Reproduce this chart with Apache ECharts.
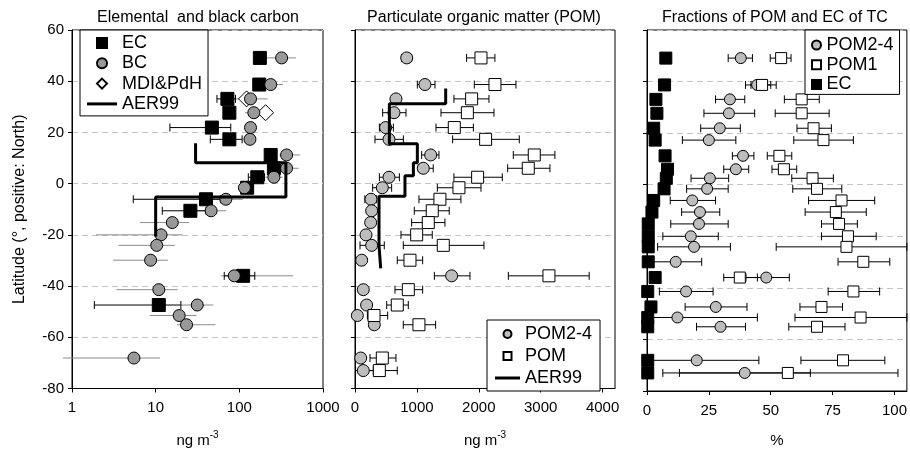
<!DOCTYPE html>
<html>
<head>
<meta charset="utf-8">
<script src="https://cdn.jsdelivr.net/npm/echarts@6/dist/echarts.min.js"></script>
<style>
  html, body { margin: 0; padding: 0; background: #fff; }
  #main { width: 910px; height: 453px; }
</style>
</head>
<body>
<div id="main"></div>
<script>
// sample latitudes (°N), shared by all three panels
const lat = [49.1, 38.7, 33.1, 27.7, 21.9, 17.3, 11.2, 6.0, 2.5, -1.6, -6.1, -10.6, -15.2, -20.0, -24.1, -29.9, -36.0, -41.4, -47.4, -51.5, -55.1, -68.1, -73.0];

// panel 1: elemental and black carbon, ng m-3
const ec    = [176, 173, 72, 76, 47, 76, 237, 259, 164, 124, 40, 26, null, null, null, null, 111, null, 10.9, null, null, null, null];
const ecLo  = [null, null, 54, null, 14.8, 45, null, null, 128, null, 5.4, 12, null, null, null, null, 66, null, 1.85, null, null, null, null];
const ecHi  = [null, null, 90, null, 79, 108, null, null, 200, null, 60, 40, null, null, null, null, 153, null, 20, null, null, null, null];
const bc    = [320, 237, 136, 149, 136, 134, 367, 367, 259, 115, 69, 46, 15.8, 11.6, 10.3, 8.7, 87, 10.9, 31.4, 19.1, 23.4, 5.5, null];
const bcLo  = [212, 192, 85, 117, null, null, 300, 300, 200, 98, 48, 31, 6.5, 1.94, 3.6, 3.1, 60, 3.4, 20, 8.5, 18, 0.78, null];
const bcHi  = [475, 332, 218, 193, null, null, 530, 510, 330, 146, 110, 70, 25, 21, 17, 14, 440, 18.3, 49, 30.8, 52, 11.3, null];
const mdi   = [null, null, 122, 206, null, null, null, null, null, null, null, null, null, null, null, null, null, null, null, null, null, null, null];
const aer1X   = [30, 30, 360, 360, 10, 10];
const aer1Lat = [15.8, 8.2, 8.2, -5.2, -5.2, -20.6];

// panel 2: particulate organic matter, ng m-3
const pom24   = [835, 1130, 662, 630, 495, 549, 1222, 1103, 549, 441, 258, 269, 253, 178, 269, 108, 1561, 134, 188, 38, 312, 92, 134];
const pom24Lo = [755, 1007, 600, 447, 394, 323, 1077, 1022, 394, 285, 160, null, null, null, 81, null, 1282, null, null, null, null, null, 10];
const pom24Hi = [915, 1292, 720, 824, 620, 781, 1356, 1264, 717, 592, 350, null, null, null, 473, null, 1857, null, null, null, null, null, 296];
const pom     = [2035, 2261, 1884, 1815, 1604, 2110, 2896, 2799, 1981, 1679, 1372, 1248, 1184, 996, 1426, 888, 3133, 861, 683, 307, 1033, 441, 393];
const pomLo   = [1803, 1927, 1598, 1389, 1308, 1577, 2557, 2466, 1598, 1330, 1033, 958, 915, 743, 780, 683, 2477, 646, 512, 200, 780, 242, 188];
const pomHi   = [2260, 2600, 2164, 2245, 1912, 2654, 3229, 3149, 2379, 2035, 1711, 1522, 1453, 1248, 2083, 1093, 3783, 1093, 861, 528, 1302, 662, 683];
const aer2X   = [1465, 1465, 555, 555, 1007, 1007, 943, 943, 807, 807, 388, 388, 415, 415];
const aer2Lat = [37.2, 31.2, 31.2, 15.6, 15.6, 8.2, 8.2, 3.1, 3.1, -4.9, -4.9, -24.2, -24.2, -33.1];

// panel 3: fractions of TC, %
const f24   = [37.9, 44.5, 33.5, 33.1, 29.4, 25, 38.8, 35.9, 25.4, 24.3, 18.3, 21.4, 21, 17.7, 19, 11.6, 48.2, 15.8, 27.8, 12.3, 29.7, 20.1, 39.5];
const f24Lo = [32.8, 39.8, 27.7, 23, 21.7, 14.3, 34.5, 31, 17.8, 16, 9.4, 14, 9.6, 6.4, 4.3, 1.3, 40, 5, 15.4, 1.3, 20, 1.3, 13.1];
const f24Hi = [42.6, 50, 39.5, 43.5, 37.7, 35.9, 43.2, 41.1, 33, 32.8, 27.7, 29.4, 32.8, 28.8, 33.7, 22.1, 57.5, 26.7, 40.4, 44.6, 39.8, 45.2, 66];
const f1    = [54.2, 46.5, 62.5, 62.5, 67.3, 71.3, 53.5, 55.3, 66.9, 68.7, 78.6, 76.3, 77.6, 81.2, 80.6, 87.4, 37.5, 83.4, 70.5, 86.3, 68.7, 79.2, 56.9];
const f1Lo  = [49.8, 42, 55.5, 51.8, 60.6, 59.3, 48.6, 50.5, 58.5, 58.9, 65.3, 63.9, 70.5, 70.5, 52.2, 77.2, 31, 73.2, 61.8, 59.8, 57.3, 62.2, 6.4];
const f1Hi  = [58.2, 52.2, 69.6, 73.6, 74.5, 83.4, 58.5, 60.5, 75.3, 78.7, 92, 88.6, 85, 92.6, 105, 98.1, 44.6, 94, 79, 105, 80, 96.1, 101.4];
const fEc   = [7.6, 7.1, 3.6, 4.0, 2.7, 3.3, 7.3, 8.3, 7.8, 6.9, 2.7, 2.0, 0.5, 0.5, 0.5, 0.5, 3.3, 0.3, 1.6, 0.3, 0.3, 0.3, 0.3];

const yTicks = [-80, -60, -40, -20, 0, 20, 40, 60];
const x2Ticks = [0, 1000, 2000, 3000, 4000];
const x3Ticks = [0, 25, 50, 75, 100];

const FONT = '"Liberation Sans", Arial, sans-serif';
const SQUARE = 'path://M0 0H10V10H0Z';
const DIAMOND = 'path://M5 0L10 5L5 10L0 5Z';

function pts(xs) {
  return xs.map((v, i) => v == null ? null : [v, lat[i]]).filter(Boolean);
}
function bars(lo, hi) {
  return lat.map((y, i) => lo[i] == null ? null : [lo[i], hi[i], y]).filter(Boolean);
}
function line(xs, ys) {
  return xs.map((v, i) => [v, ys[i]]);
}

function errSeries(idx, data, color, cap) {
  return {
    type: 'custom',
    xAxisIndex: idx, yAxisIndex: idx,
    clip: false,
    silent: true,
    encode: { x: [0, 1], y: 2 },
    renderItem: function (params, api) {
      const a = api.coord([api.value(0), api.value(2)]);
      const b = api.coord([api.value(1), api.value(2)]);
      const st = { stroke: color, lineWidth: 1 };
      const ch = [{ type: 'line', shape: { x1: a[0], y1: a[1], x2: b[0], y2: b[1] }, style: st }];
      if (cap) {
        ch.push({ type: 'line', shape: { x1: a[0], y1: a[1] - cap, x2: a[0], y2: a[1] + cap }, style: st });
        ch.push({ type: 'line', shape: { x1: b[0], y1: b[1] - cap, x2: b[0], y2: b[1] + cap }, style: st });
      }
      return { type: 'group', children: ch };
    },
    data: data
  };
}

function dots(idx, name, data, symbol, size, fill) {
  return {
    type: 'scatter', name: name,
    xAxisIndex: idx, yAxisIndex: idx,
    symbol: symbol, symbolSize: size,
    itemStyle: { color: fill, borderColor: '#000', borderWidth: 1, opacity: 1 },
    emphasis: { disabled: true },
    data: data
  };
}

function stepLine(idx, data) {
  return {
    type: 'line', name: 'AER99',
    xAxisIndex: idx, yAxisIndex: idx,
    symbol: 'none', silent: true,
    lineStyle: { color: '#000', width: 3 },
    itemStyle: { color: '#000' },
    data: data
  };
}

const grids = [
  { left: 72, top: 30, width: 251, height: 365 },
  { left: 355, top: 30, width: 260, height: 365 },
  { left: 647, top: 30, width: 262, height: 365 }
].map(g => Object.assign(g, { show: true, borderColor: '#000', borderWidth: 1, backgroundColor: 'transparent' }));

const axisCommon = {
  axisLine: { show: true, onZero: false, lineStyle: { color: '#000', width: 1 } },
  axisTick: { show: true, inside: false, length: 4, lineStyle: { color: '#000' } },
  splitLine: { show: false }
};

const supName = {
  nameLocation: 'middle',
  nameGap: 42,
  nameTextStyle: {
    color: '#000',
    rich: {
      a: { fontSize: 15, fontFamily: FONT, color: '#000', lineHeight: 20 },
      b: { fontSize: 10, fontFamily: FONT, color: '#000', lineHeight: 10, verticalAlign: 'top' }
    }
  }
};

const plain = v => String(v);

const option = {
  animation: false,
  backgroundColor: '#fff',
  textStyle: { fontFamily: FONT, color: '#000' },
  title: [
    { text: 'Elemental  and black carbon', left: 198, top: 10, textAlign: 'center' },
    { text: 'Particulate organic matter (POM)', left: 484, top: 10, textAlign: 'center' },
    { text: 'Fractions of POM and EC of TC', left: 775, top: 10, textAlign: 'center' }
  ].map(t => Object.assign(t, { padding: 0, textStyle: { fontSize: 16, fontWeight: 'normal', color: '#000', fontFamily: FONT } })),
  grid: grids,
  xAxis: [
    Object.assign({}, axisCommon, supName, {
      type: 'log', logBase: 10, min: 1, max: 1000, gridIndex: 0,
      axisLabel: { fontSize: 15, color: '#000', margin: 12, fontFamily: FONT, formatter: plain },
      minorTick: { show: false },
      name: '{a|ng m}{b|-3}'
    }),
    Object.assign({}, axisCommon, supName, {
      type: 'value', min: 0, max: 4200, interval: 1000, gridIndex: 1,
      axisTick: Object.assign({}, axisCommon.axisTick, { customValues: x2Ticks }),
      axisLabel: { fontSize: 15, color: '#000', margin: 12, fontFamily: FONT, customValues: x2Ticks, formatter: plain },
      name: '{a|ng m}{b|-3}'
    }),
    Object.assign({}, axisCommon, {
      type: 'value', min: 0, max: 105, gridIndex: 2,
      axisTick: Object.assign({}, axisCommon.axisTick, { customValues: x3Ticks }),
      axisLabel: { fontSize: 15, color: '#000', margin: 12, fontFamily: FONT, customValues: x3Ticks, formatter: plain },
      name: '%', nameLocation: 'middle', nameGap: 42,
      nameTextStyle: { fontSize: 15, color: '#000', fontFamily: FONT }
    })
  ],
  yAxis: [0, 1, 2].map(i => Object.assign({}, axisCommon, {
    type: 'value', gridIndex: i, min: -80, max: 60, interval: 20,
    axisTick: Object.assign({}, axisCommon.axisTick, { customValues: yTicks }),
    axisLabel: { show: i === 0, fontSize: 15, color: '#000', margin: 8, fontFamily: FONT, customValues: yTicks },
    splitLine: { show: true, lineStyle: { color: '#c4c4c4', type: [6, 4], width: 1 } },
    name: i === 0 ? 'Latitude (°, positive: North)' : '',
    nameLocation: 'middle', nameGap: 44,
    nameTextStyle: { fontSize: 16, color: '#000', fontFamily: FONT }
  })),
  legend: [
    {
      data: [
        { name: 'EC', icon: SQUARE },
        { name: 'BC', icon: 'circle' },
        { name: 'MDI&PdH', icon: DIAMOND },
        { name: 'AER99', icon: 'path://M0 0H30V3H0Z', itemStyle: { color: '#000', borderWidth: 0 } }
      ],
      orient: 'vertical', left: 80, top: 30,
      padding: [4, 6, 3, 7], itemGap: 2.3, itemWidth: 30, itemHeight: 10
    },
    {
      data: [
        { name: 'POM2-4', icon: 'circle' },
        { name: 'POM', icon: SQUARE },
        { name: 'AER99', icon: 'path://M0 0H25V3H0Z', itemStyle: { color: '#000', borderWidth: 0 } }
      ],
      orient: 'vertical', left: 487, top: 320,
      padding: [5, 8, 4, 8], itemGap: 4, itemWidth: 25, itemHeight: 8
    },
    {
      data: [
        { name: 'POM2-4', icon: 'circle' },
        { name: 'POM1', icon: SQUARE },
        { name: 'EC', icon: SQUARE }
      ],
      orient: 'vertical', left: 805, top: 30,
      padding: [6, 6, 1, 6], itemGap: 1.7, itemWidth: 10, itemHeight: 9
    }
  ].map(l => Object.assign(l, {
    borderColor: '#000', borderWidth: 1, borderRadius: 0, backgroundColor: '#fff',
    selectedMode: false, z: 10, symbolKeepAspect: true,
    textStyle: { fontSize: 18, color: '#000', fontFamily: FONT }
  })),
  series: [
    // panel 1
    errSeries(0, bars(bcLo, bcHi), '#8c8c8c', 0),
    errSeries(0, bars(ecLo, ecHi), '#000', 4),
    stepLine(0, line(aer1X, aer1Lat)),
    dots(0, 'EC', pts(ec), 'rect', 13, '#000'),
    dots(0, 'MDI&PdH', pts(mdi), 'diamond', 16, '#fff'),
    dots(0, 'BC', pts(bc), 'circle', 12, '#999'),
    // panel 2
    errSeries(1, bars(pomLo, pomHi), '#000', 4),
    errSeries(1, bars(pom24Lo, pom24Hi), '#000', 4),
    stepLine(1, line(aer2X, aer2Lat)),
    dots(1, 'POM2-4', pts(pom24), 'circle', 12, '#bdbdbd'),
    dots(1, 'POM', pts(pom), 'rect', 12, '#fff'),
    // panel 3
    errSeries(2, bars(f1Lo, f1Hi), '#000', 4),
    errSeries(2, bars(f24Lo, f24Hi), '#000', 4),
    dots(2, 'POM2-4', pts(f24), 'circle', 11, '#bdbdbd'),
    dots(2, 'POM1', pts(f1), 'rect', 11, '#fff'),
    dots(2, 'EC', pts(fEc), 'rect', 12, '#000')
  ]
};

const chart = echarts.init(document.getElementById('main'), null, { renderer: 'canvas' });
chart.setOption(option);
</script>
</body>
</html>
